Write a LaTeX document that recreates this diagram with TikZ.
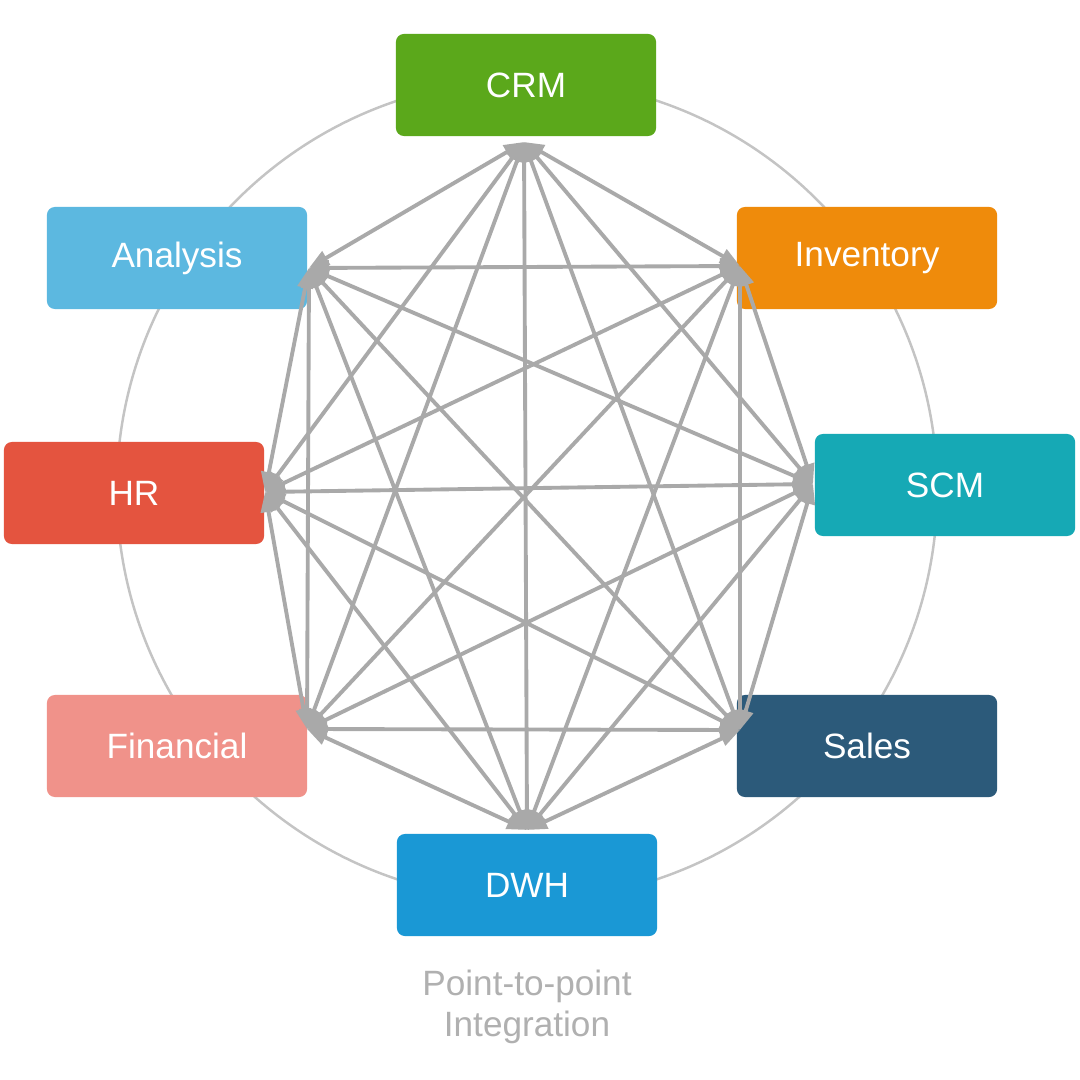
\documentclass[tikz,border=0pt]{standalone}
\usepackage{fontspec}
\setmainfont{Liberation Sans}
\usetikzlibrary{arrows.meta}
\definecolor{cCRMc}{HTML}{5BA81B}
\definecolor{cANAc}{HTML}{5CB8E0}
\definecolor{cINVc}{HTML}{EF8B0B}
\definecolor{cHRc}{HTML}{E4543F}
\definecolor{cSCMc}{HTML}{16A9B5}
\definecolor{cFINc}{HTML}{F0928A}
\definecolor{cSALc}{HTML}{2C5A7A}
\definecolor{cDWHc}{HTML}{1A98D5}
\definecolor{linkgray}{HTML}{A9A9A9}
\definecolor{ringgray}{HTML}{C4C4C4}
\definecolor{capgray}{HTML}{B0B0B0}
\tikzset{
  sysbox/.style={rounded corners=0.08cm, minimum width=2.6cm, minimum height=1.02cm,
    inner sep=0pt, text=white, font=\fontsize{10}{12}\selectfont},
  link/.style={draw=linkgray, line width=1.1pt, {Triangle[length=0.2cm,width=0.15cm]}-{Triangle[length=0.2cm,width=0.15cm]}},
  ring/.style={draw=ringgray, line width=0.7pt}
}
\begin{document}
\begin{tikzpicture}[x=0.01cm,y=-0.01cm]
\useasboundingbox (0,0) rectangle (1080,1080);
\fill[white] (0,0) rectangle (1080,1080);
\coordinate (ctr) at (527,490);
\draw[ring] (ctr) circle[radius=4.1cm];
\node[sysbox, fill=cCRMc] (crm) at (526,85) {CRM};
\node[sysbox, fill=cANAc] (ana) at (177,258) {Analysis};
\node[sysbox, fill=cINVc] (inv) at (867,258) {Inventory};
\node[sysbox, fill=cHRc] (hr) at (134,493) {HR};
\node[sysbox, fill=cSCMc] (scm) at (945,485) {SCM};
\node[sysbox, fill=cFINc] (fin) at (177,746) {Financial};
\node[sysbox, fill=cSALc] (sal) at (867,746) {Sales};
\node[sysbox, fill=cDWHc] (dwh) at (527,885) {DWH};
\coordinate (pcrm) at (524,142);
\coordinate (pana) at (309,268);
\coordinate (pinv) at (740,266);
\coordinate (phr) at (265,492);
\coordinate (pscm) at (813,484);
\coordinate (pfin) at (307,729);
\coordinate (psal) at (740,730);
\coordinate (pdwh) at (527,830);
\foreach \a/\b in {crm/ana,crm/inv,crm/hr,crm/scm,crm/fin,crm/sal,crm/dwh,
  ana/inv,ana/hr,ana/scm,ana/fin,ana/sal,ana/dwh,
  inv/hr,inv/scm,inv/fin,inv/sal,inv/dwh,
  hr/scm,hr/fin,hr/sal,hr/dwh,
  scm/fin,scm/sal,scm/dwh,
  fin/sal,fin/dwh,
  sal/dwh}
  \draw[link] (p\a) -- (p\b);
\node[text=capgray, font=\fontsize{10}{11.7}\selectfont, align=center] (cap) at (527,1007) {Point-to-point\\Integration};
\end{tikzpicture}
\end{document}
